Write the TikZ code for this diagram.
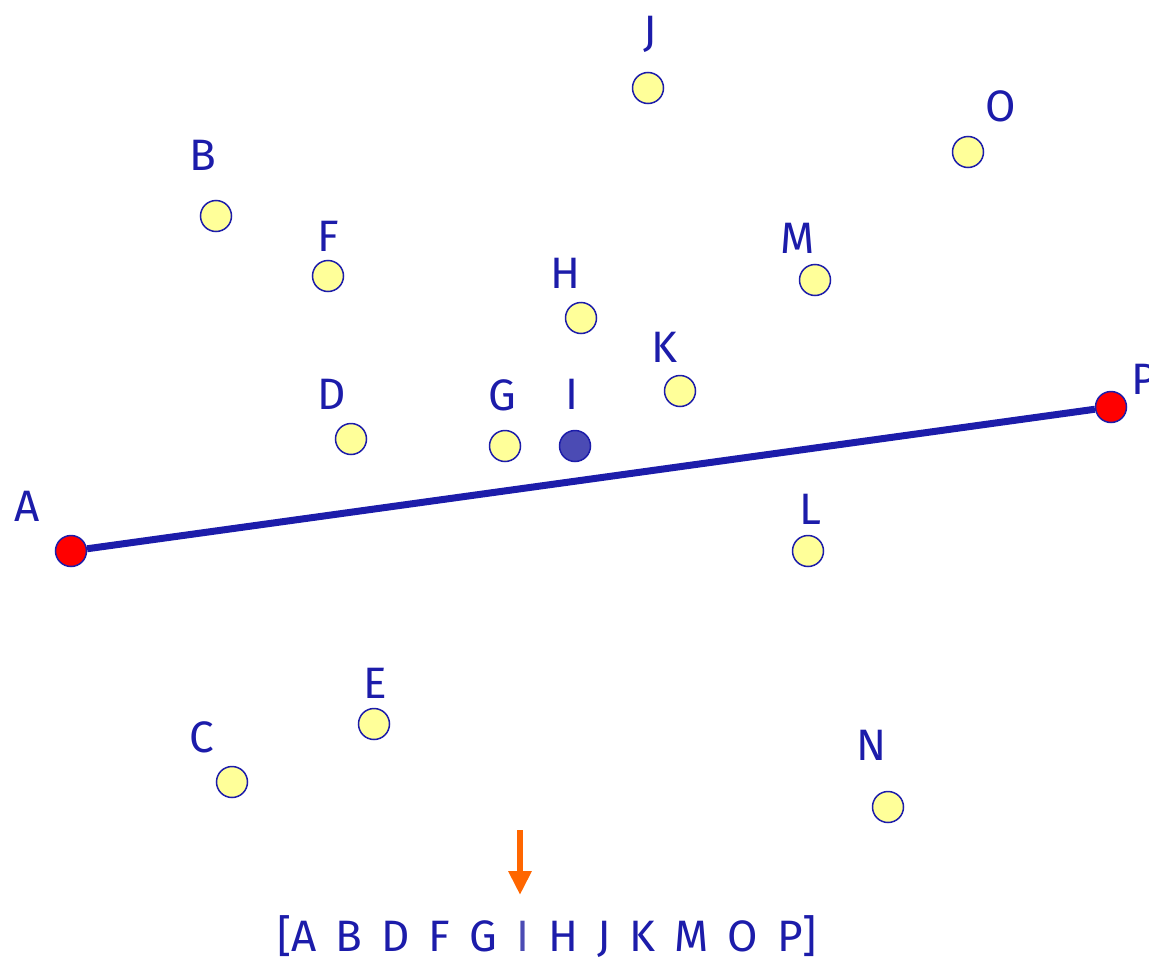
\documentclass[tikz,border=0pt]{standalone}
\usepackage{fontspec}
\setmainfont{Fira Sans}
\usetikzlibrary{arrows.meta}
\definecolor{dblue}{HTML}{1C1CAA}
\definecolor{iblue}{HTML}{4B4BB4}
\definecolor{pyellow}{HTML}{FFFF99}
\definecolor{ored}{HTML}{FF6600}
\begin{document}
\begin{tikzpicture}[x=1pt,y=-1pt,
  pt/.style={circle,draw=dblue,line width=1.5pt,fill=pyellow,minimum size=31pt,inner sep=0pt},
  endpt/.style={pt,fill=red},
  selpt/.style={pt,fill=iblue},
  lbl/.style={text=dblue,font=\fontsize{44}{44}\selectfont,anchor=base,inner sep=0pt}]
\useasboundingbox (0,0) rectangle (1149,961);
% points
\node[pt] (J) at (648,88) {};
\node[pt] (O) at (968,152) {};
\node[pt] (B) at (216,216) {};
\node[pt] (F) at (328,276) {};
\node[pt] (M) at (815,280) {};
\node[pt] (H) at (581,318) {};
\node[pt] (K) at (680,391) {};
\node[pt] (D) at (351,439) {};
\node[pt] (G) at (505,446) {};
\node[selpt] (I) at (575,446) {};
\node[pt] (L) at (808,551) {};
\node[pt] (E) at (374,724) {};
\node[pt] (C) at (232,782) {};
\node[pt] (N) at (888,807) {};
\node[endpt] (A) at (71,551) {};
\node[endpt] (P) at (1111,407) {};
\draw[dblue,line width=7pt] (A) -- (P);
% labels
\node[lbl] (lJ) at (650,46) {J};
\node[lbl] (lO) at (1001,121) {O};
\node[lbl] (lB) at (203,170) {B};
\node[lbl] (lF) at (328,251) {F};
\node[lbl] (lM) at (798,253) {M};
\node[lbl] (lH) at (565,288) {H};
\node[lbl] (lK) at (664,362) {K};
\node[lbl] (lD) at (332,409) {D};
\node[lbl] (lG) at (502,410) {G};
\node[lbl] (lI) at (572,409) {I};
\node[lbl] (lL) at (810,524) {L};
\node[lbl] (lE) at (375,698) {E};
\node[lbl] (lC) at (202,752) {C};
\node[lbl] (lN) at (872,760) {N};
\node[lbl] (lA) at (27,521) {A};
\node[lbl,anchor=base west] (lP) at (1131,394) {P};
% list
\node[lbl] (list) at (547,951) {\spaceskip=19pt [A B D F G \textcolor{iblue}{I} H J K M O P]};
\coordinate (arrS) at (520,830);
\coordinate (arrE) at (520,895);
\draw[ored,line width=6pt,-{Triangle[length=24pt,width=22pt]}] (arrS) -- (arrE);
\end{tikzpicture}
\end{document}
